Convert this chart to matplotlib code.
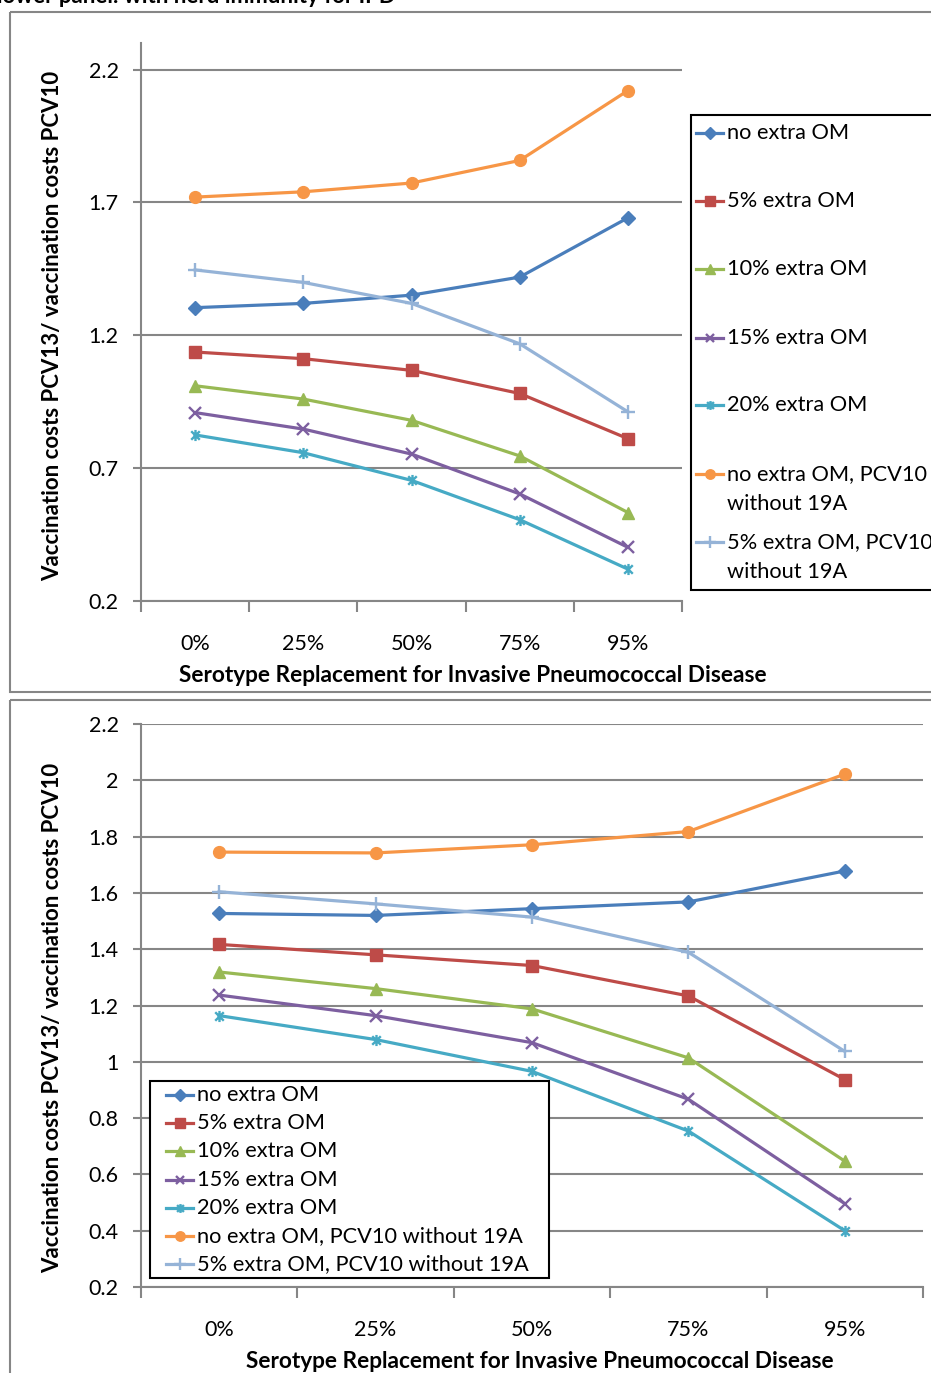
import matplotlib
matplotlib.use("Agg")
import matplotlib.pyplot as plt
from matplotlib.path import Path
from matplotlib.lines import Line2D
from matplotlib.patches import Rectangle

plt.rcParams["font.family"] = ["Lato", "DejaVu Sans"]

categories = ["0%", "25%", "50%", "75%", "95%"]

series_labels = [
    "no extra OM",
    "5% extra OM",
    "10% extra OM",
    "15% extra OM",
    "20% extra OM",
    "no extra OM, PCV10 without 19A",
    "5% extra OM, PCV10 without 19A",
]

# Upper panel values
upper_no_extra = [1.304, 1.320, 1.351, 1.419, 1.642]
upper_5_extra = [1.137, 1.112, 1.068, 0.981, 0.811]
upper_10_extra = [1.010, 0.960, 0.880, 0.746, 0.533]
upper_15_extra = [0.909, 0.847, 0.753, 0.603, 0.402]
upper_20_extra = [0.825, 0.758, 0.654, 0.506, 0.320]
upper_no_extra_wo19a = [1.720, 1.740, 1.773, 1.858, 2.121]
upper_5_extra_wo19a = [1.446, 1.399, 1.320, 1.168, 0.912]

# Lower panel values (herd immunity for IPD)
lower_no_extra = [1.527, 1.520, 1.544, 1.568, 1.678]
lower_5_extra = [1.417, 1.380, 1.342, 1.234, 0.937]
lower_10_extra = [1.319, 1.260, 1.188, 1.014, 0.647]
lower_15_extra = [1.237, 1.164, 1.068, 0.867, 0.496]
lower_20_extra = [1.164, 1.079, 0.966, 0.754, 0.400]
lower_no_extra_wo19a = [1.745, 1.742, 1.771, 1.818, 2.022]
lower_5_extra_wo19a = [1.604, 1.561, 1.514, 1.389, 1.037]

upper_ticks = [0.2, 0.7, 1.2, 1.7, 2.2]
lower_ticks = [0.2, 0.4, 0.6, 0.8, 1.0, 1.2, 1.4, 1.6, 1.8, 2.0, 2.2]
lower_tick_labels = ["0.2", "0.4", "0.6", "0.8", "1", "1.2", "1.4", "1.6", "1.8", "2", "2.2"]

ylabel = "Vaccination costs PCV13/ vaccination costs PCV10"
xlabel = "Serotype Replacement for Invasive Pneumococcal Disease"
header = "lower panel: with herd immunity for IPD"

# asterisk marker: diagonal cross plus vertical bar
star_path = Path(
    [(-1, -1), (1, 1), (-1, 1), (1, -1), (0, -1.3), (0, 1.3)],
    [Path.MOVETO, Path.LINETO, Path.MOVETO, Path.LINETO, Path.MOVETO, Path.LINETO],
)

styles = [
    dict(color="#4A7EBB", marker="D", ms=7.5),
    dict(color="#BE4B48", marker="s", ms=8.5),
    dict(color="#98B954", marker="^", ms=9),
    dict(color="#7D5FA0", marker="x", ms=8, mew=1.7),
    dict(color="#46AAC5", marker=star_path, ms=8, mew=1.7),
    dict(color="#F79646", marker="o", ms=8.5),
    dict(color="#95B3D7", marker="+", ms=10, mew=1.7),
]

W, H = 931, 1373
fig = plt.figure(figsize=(W / 100, H / 100), dpi=100)
GRID = "#868686"
TICK_FS = 15.5
LEG_FS = 15.7
YLAB_FS = 16
XLAB_FS = 16.3
LW = 2.3


def px_axes(left, top, right, bottom):
    return fig.add_axes([left / W, 1 - bottom / H, (right - left) / W, (bottom - top) / H])


def style_axes(ax, ylim, ticks, tick_labels):
    x = list(range(len(categories)))
    ax.set_xlim(-0.5, len(categories) - 0.5)
    ax.set_ylim(*ylim)
    ax.set_yticks(ticks)
    ax.set_yticklabels(tick_labels, fontsize=TICK_FS)
    ax.set_xticks(x)
    ax.set_xticklabels(categories, fontsize=TICK_FS)
    ax.set_xticks([i - 0.5 for i in range(len(categories) + 1)], minor=True)
    ax.tick_params(axis="x", which="major", length=0, pad=24)
    ax.tick_params(axis="x", which="minor", length=8, width=1.5, color=GRID, direction="out")
    ax.tick_params(axis="y", length=6, width=1.5, color=GRID, pad=10)
    ax.grid(axis="y", color=GRID, linewidth=1.5)
    ax.set_axisbelow(True)
    for s in ("top", "right"):
        ax.spines[s].set_visible(False)
    for s in ("left", "bottom"):
        ax.spines[s].set_color(GRID)
        ax.spines[s].set_linewidth(1.5)


def draw_series(ax, data):
    x = list(range(len(categories)))
    for vals, st in zip(data, styles):
        ax.plot(x, vals, color=st["color"], lw=LW, marker=st["marker"], ms=st["ms"],
                mew=st.get("mew", 1.0), mfc=st["color"], mec=st["color"], clip_on=False)


# Upper panel
ax1 = px_axes(141, 43, 682, 601)
style_axes(ax1, (0.2, 2.3), upper_ticks, [f"{t:.1f}" for t in upper_ticks])
draw_series(ax1, [upper_no_extra, upper_5_extra, upper_10_extra, upper_15_extra,
                  upper_20_extra, upper_no_extra_wo19a, upper_5_extra_wo19a])

# Lower panel
ax2 = px_axes(141, 724, 923, 1287)
style_axes(ax2, (0.2, 2.2), lower_ticks, lower_tick_labels)
draw_series(ax2, [lower_no_extra, lower_5_extra, lower_10_extra, lower_15_extra,
                  lower_20_extra, lower_no_extra_wo19a, lower_5_extra_wo19a])

# Overlay in pixel coordinates for frames, titles and legends
ov = fig.add_axes([0, 0, 1, 1], zorder=10)
ov.set_xlim(0, W)
ov.set_ylim(H, 0)
ov.axis("off")
ov.patch.set_alpha(0)

ov.add_patch(Rectangle((10, 12), 940, 680, fill=False, ec=GRID, lw=1.5))
ov.add_patch(Rectangle((10, 700), 940, 700, fill=False, ec=GRID, lw=1.5))

ov.text(-3, 3, header, fontsize=16, fontweight="bold", ha="left", va="baseline")

ov.text(473, 676, xlabel, fontsize=XLAB_FS, fontweight="bold", ha="center", va="center")
ov.text(540, 1362, xlabel, fontsize=XLAB_FS, fontweight="bold", ha="center", va="center")
ov.text(53, 326, ylabel, fontsize=YLAB_FS, fontweight="bold", ha="center", va="center", rotation=90)
ov.text(53, 1018, ylabel, fontsize=YLAB_FS, fontweight="bold", ha="center", va="center", rotation=90)


def legend_entry(x0, y, st, label):
    ov.add_line(Line2D([x0, x0 + 27], [y, y], color=st["color"], lw=LW))
    ov.add_line(Line2D([x0 + 13.5], [y], color=st["color"], marker=st["marker"],
                       ms=st["ms"] * 0.8, mew=st.get("mew", 1.0), mfc=st["color"], mec=st["color"]))
    ov.text(x0 + 31, y, label, fontsize=LEG_FS, ha="left", va="center")


# Upper legend (labels wrapped over two lines)
ov.add_patch(Rectangle((691, 115), 260, 475, fc="white", ec="black", lw=1.5))
upper_rows = [133, 201, 269, 338, 405, 474, 542]
for i, (y, st, lab) in enumerate(zip(upper_rows, styles, series_labels)):
    if i >= 5:
        head, tail = lab.split(", PCV10 ")
        legend_entry(696, y, st, head + ", PCV10")
        ov.text(727, y + 29.5, tail, fontsize=LEG_FS, ha="left", va="center")
    else:
        legend_entry(696, y, st, lab)

# Lower legend
ov.add_patch(Rectangle((150, 1081), 399, 197, fc="white", ec="black", lw=1.5))
for i, (st, lab) in enumerate(zip(styles, series_labels)):
    legend_entry(166, 1095 + i * 28.2, st, lab)

fig.savefig("out.png", dpi=100)
